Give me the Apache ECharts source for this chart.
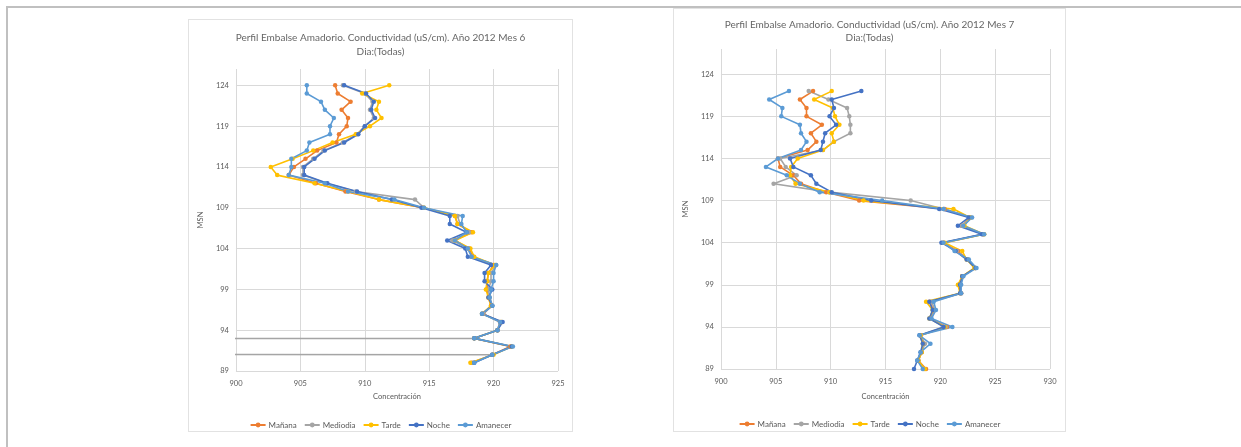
<!DOCTYPE html>
<html>
<head>
<meta charset="utf-8">
<script src="https://cdn.jsdelivr.net/npm/echarts@6/dist/echarts.min.js"></script>
<style>
  html, body { margin: 0; padding: 0; background: #fff; }
  body { width: 1241px; height: 447px; position: relative; overflow: hidden; }
  .frame-top { position: absolute; left: 6px; top: 6px; right: 0; height: 2px; background: #c0c0c0; }
  .frame-left { position: absolute; left: 6px; top: 6px; width: 2px; bottom: 0; background: #c0c0c0; }
  .panel { position: absolute; border: 1px solid #e2e2e2; background: #fff; }
  #panelJun { left: 188px; top: 19px; width: 383px; height: 411px; }
  #panelJul { left: 673px; top: 8px; width: 391px; height: 422px; }
  .chart { position: absolute; left: 0; top: 0; width: 100%; height: 100%; }
</style>
</head>
<body>
<div class="frame-top"></div>
<div class="frame-left"></div>
<div class="panel" id="panelJun"><div class="chart" id="chartJun"></div></div>
<div class="panel" id="panelJul"><div class="chart" id="chartJul"></div></div>
<script>
// Series (time of day) names and their colours
const seriesNames = ['Mañana', 'Mediodia', 'Tarde', 'Noche', 'Amanecer'];
const seriesColors = ['#ED7D31', '#A5A5A5', '#FFC000', '#4472C4', '#5B9BD5'];

// Depth-axis tick labels (MSN)
const depthTicks = [89, 94, 99, 104, 109, 114, 119, 124];

// ---- Month 6 profile: elevation levels (MSN) and conductivity per series ----
const depthJun = [124, 123, 122, 121, 120, 119, 118, 117, 116, 115, 114, 113, 112, 111, 110, 109, 108,
  107, 106, 105, 104, 103, 102, 101, 100, 99, 98, 97, 96, 95, 94, 93, 92, 91, 90];
const junManana = [907.7, 907.9, 908.9, 908.2, 908.7, 908.6, 908.0, 907.8, 906.3, 905.4, 904.5, 904.1, 906.2,
  908.5, 911.1, 914.5, 917.0, 917.2, 918.3, 917.0, 918.1, 918.4, 920.0, 919.6, 919.5, 919.5, 919.6, 919.8,
  919.2, 920.5, 920.3, 918.5, 921.3, 919.9, 918.3];
const junMediodia = [908.3, 910.0, 910.6, 910.4, 910.7, 910.0, 909.4, 908.3, 906.8, 906.0, 905.2, 905.2, 907.0,
  909.3, 913.9, 914.6, 917.2, 917.4, 918.1, 916.8, 918.0, 918.3, 920.2, 919.8, 919.8, 919.6, 919.7, 919.9,
  919.2, 920.6, 920.3, 918.5, 0, 919.9, 918.4];
const junTarde = [911.9, 909.8, 911.1, 910.9, 911.3, 910.4, 909.3, 907.5, 906.0, 904.4, 902.7, 903.2, 906.1,
  908.7, 911.1, 914.6, 917.0, 917.2, 918.4, 917.0, 918.2, 918.5, 920.1, 919.6, 919.5, 919.4, 919.6, 919.8,
  919.1, 920.6, 920.3, 918.5, 921.4, 920.0, 918.2];
const junNoche = [908.4, 910.1, 910.7, 910.5, 910.8, 910.0, 909.5, 908.4, 906.9, 906.1, 905.3, 905.3, 907.1,
  909.4, 912.1, 914.4, 916.6, 916.6, 917.9, 916.4, 917.8, 918.0, 919.8, 919.3, 919.3, 919.9, 919.6, 919.9,
  919.1, 920.7, 920.3, 918.5, 921.4, 919.9, 918.5];
const junAmanecer = [905.5, 905.5, 906.6, 906.9, 907.6, 907.3, 907.3, 905.7, 905.5, 904.3, 904.3, 904.1, 906.9,
  908.7, 912.3, 914.6, 917.6, 917.5, 917.9, 917.0, 918.0, 918.3, 920.2, 920.0, 920.0, 919.8, 919.7, 919.9,
  919.1, 920.5, 920.3, 918.5, 921.5, 919.9, 918.5];

// ---- Month 7 profile ----
const depthJul = [122, 121, 120, 119, 118, 117, 116, 115, 114, 113, 112, 111, 110, 109, 108, 107, 106,
  105, 104, 103, 102, 101, 100, 99, 98, 97, 96, 95, 94, 93, 92, 91, 90, 89];
const julManana = [908.4, 907.2, 907.8, 907.8, 909.2, 908.2, 908.7, 907.9, 905.2, 905.4, 906.6, 907.3, 909.6,
  912.6, 920.4, 922.7, 922.0, 923.9, 920.3, 921.6, 922.5, 923.2, 922.0, 921.7, 921.9, 919.0, 919.4, 919.1,
  920.6, 918.2, 918.5, 918.3, 918.0, 918.7];
const julMediodia = [908.0, 909.8, 911.5, 911.7, 911.8, 911.8, 910.3, 909.3, 905.4, 905.9, 906.9, 904.8, 909.9,
  917.3, 920.3, 922.8, 922.0, 923.9, 920.2, 921.5, 922.5, 923.2, 922.0, 921.8, 921.9, 919.2, 919.5, 919.1,
  920.5, 918.2, 918.6, 918.3, 918.0, 918.5];
const julTarde = [910.1, 908.5, 910.2, 910.4, 910.8, 910.1, 910.3, 909.3, 907.0, 906.4, 906.3, 906.8, 909.9,
  913.0, 921.2, 922.7, 922.2, 924.0, 920.4, 922.0, 922.4, 923.1, 922.0, 921.6, 921.8, 918.7, 919.3, 919.0,
  920.4, 918.2, 918.4, 918.3, 918.0, 918.6];
const julNoche = [912.8, 910.1, 910.3, 909.9, 910.5, 909.5, 909.3, 909.1, 906.3, 906.6, 908.2, 908.7, 910.1,
  913.7, 919.9, 922.6, 921.6, 923.8, 920.1, 921.4, 922.4, 923.2, 922.0, 921.8, 921.8, 919.0, 919.3, 919.0,
  920.3, 918.1, 918.4, 918.2, 917.9, 917.6];
const julAmanecer = [906.2, 904.4, 905.6, 905.5, 907.2, 907.3, 907.8, 907.3, 905.2, 904.1, 906.0, 907.2, 909.0,
  914.7, 920.3, 922.9, 922.1, 924.0, 920.3, 921.3, 922.6, 923.3, 922.1, 921.9, 921.9, 919.4, 919.6, 919.2,
  921.1, 918.1, 919.1, 918.2, 917.9, 918.4];

const FONT = 'Lato, "Open Sans", sans-serif';
const TEXT = '#595959';
const GRID_LINE = '#d9d9d9';

function profileOption(cfg) {
  const valueSets = cfg.values;
  return {
    animation: false,
    textStyle: { fontFamily: FONT },
    title: {
      text: cfg.title + '\nDia:(Todas)',
      left: 'center',
      top: cfg.titleTop,
      textStyle: { fontFamily: FONT, fontSize: 10, fontWeight: 'normal', color: '#666666', lineHeight: cfg.titleLine }
    },
    legend: {
      data: seriesNames,
      left: 'center',
      top: cfg.legendTop,
      itemWidth: 15,
      itemHeight: 6,
      itemGap: 7,
      textStyle: { fontFamily: FONT, fontSize: 8, color: TEXT, padding: [0, 0, 0, -2] }
    },
    grid: cfg.grid,
    xAxis: {
      type: 'value',
      min: 900,
      max: cfg.xMax,
      interval: 5,
      name: 'Concentración',
      nameLocation: 'middle',
      nameGap: cfg.xNameGap,
      nameTextStyle: { fontFamily: FONT, fontSize: 7.5, color: TEXT },
      axisLine: { show: false },
      axisTick: { show: false },
      axisLabel: { fontFamily: FONT, fontSize: 7.5, color: TEXT, margin: 9 },
      splitLine: { show: true, lineStyle: { color: GRID_LINE, width: 1 } }
    },
    yAxis: {
      type: 'value',
      min: 89,
      max: cfg.yMax,
      name: 'MSN',
      nameLocation: 'middle',
      nameGap: cfg.yNameGap,
      nameTextStyle: { fontFamily: FONT, fontSize: 7.5, color: TEXT },
      axisLine: { show: false },
      axisTick: { show: false, customValues: depthTicks },
      axisLabel: { fontFamily: FONT, fontSize: 7.5, color: TEXT, margin: 7, customValues: depthTicks },
      splitLine: { show: true, lineStyle: { color: GRID_LINE, width: 1 } }
    },
    series: seriesNames.map((name, k) => ({
      name: name,
      type: 'line',
      data: cfg.depths.map((d, i) => [valueSets[k][i], d]),
      symbol: 'circle',
      symbolSize: 4.5,
      clip: true,
      color: seriesColors[k],
      lineStyle: { width: 1.6, color: seriesColors[k] },
      itemStyle: { color: seriesColors[k] },
      emphasis: { disabled: true }
    }))
  };
}

const chartJun = echarts.init(document.getElementById('chartJun'), null, { renderer: 'canvas' });
chartJun.setOption(profileOption({
  title: 'Perfil Embalse Amadorio. Conductividad (uS/cm). Año 2012 Mes 6',
  titleTop: 6,
  titleLine: 14,
  legendTop: 396,
  grid: { left: 44, top: 49, width: 325, height: 302 },
  xMax: 925,
  yMax: 126,
  xNameGap: 22,
  yNameGap: 27,
  depths: depthJun,
  values: [junManana, junMediodia, junTarde, junNoche, junAmanecer]
}));

const chartJul = echarts.init(document.getElementById('chartJul'), null, { renderer: 'canvas' });
chartJul.setOption(profileOption({
  title: 'Perfil Embalse Amadorio. Conductividad (uS/cm). Año 2012 Mes 7',
  titleTop: 4,
  titleLine: 13,
  legendTop: 406,
  grid: { left: 45, top: 40, width: 331, height: 320 },
  xMax: 930,
  yMax: 127,
  xNameGap: 24,
  yNameGap: 25,
  depths: depthJul,
  values: [julManana, julMediodia, julTarde, julNoche, julAmanecer]
}));
</script>
</body>
</html>
